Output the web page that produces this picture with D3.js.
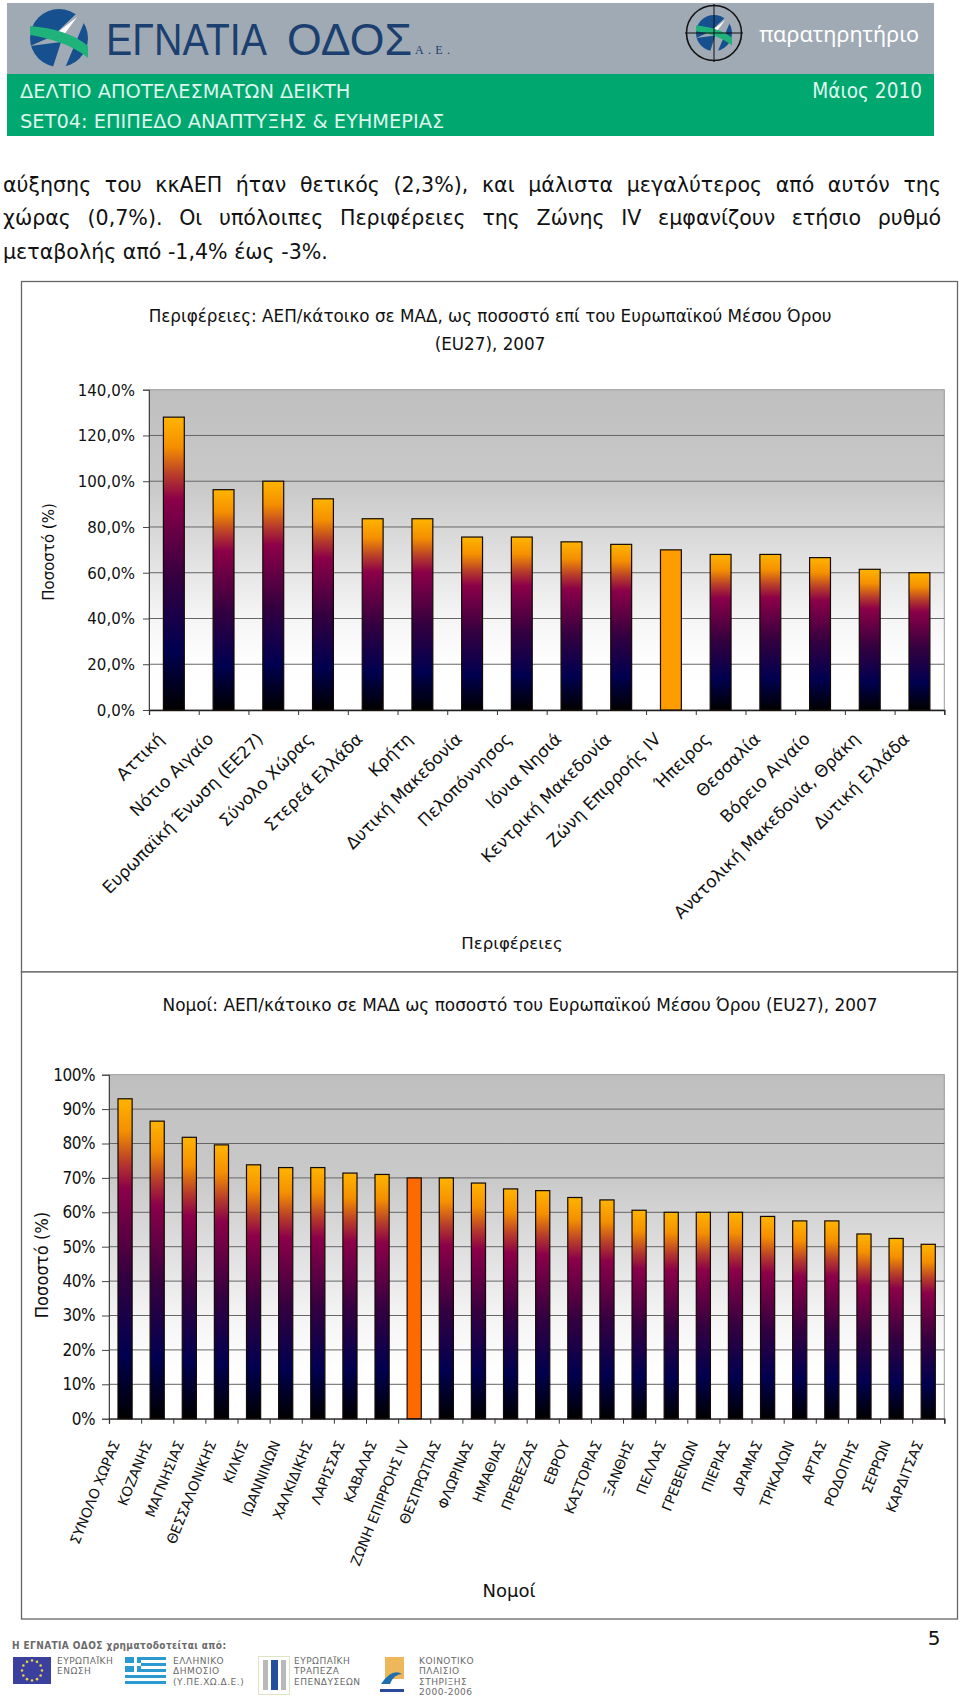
<!DOCTYPE html>
<html><head><meta charset="utf-8">
<script src="https://cdn.jsdelivr.net/npm/d3@7"></script>
<style>html,body{margin:0;padding:0;background:#fff}svg{display:block}</style>
</head><body><div id="c"></div>
<script>
const regionNames = ["Αττική","Νότιο Αιγαίο","Ευρωπαϊκή Ένωση (ΕΕ27)","Σύνολο Χώρας","Στερεά Ελλάδα","Κρήτη","Δυτική Μακεδονία","Πελοπόννησος","Ιόνια Νησιά","Κεντρική Μακεδονία","Ζώνη Επιρροής IV","Ήπειρος","Θεσσαλία","Βόρειο Αιγαίο","Ανατολική Μακεδονία, Θράκη","Δυτική Ελλάδα"];
const regionValues = [128,96.3,100,92.3,83.6,83.6,75.6,75.6,73.5,72.4,70,68,68,66.6,61.5,60];
const regionTicks = [0,20,40,60,80,100,120,140];
const prefectureNames = ["ΣΥΝΟΛΟ ΧΩΡΑΣ","ΚΟΖΑΝΗΣ","ΜΑΓΝΗΣΙΑΣ","ΘΕΣΣΑΛΟΝΙΚΗΣ","ΚΙΛΚΙΣ","ΙΩΑΝΝΙΝΩΝ","ΧΑΛΚΙΔΙΚΗΣ","ΛΑΡΙΣΣΑΣ","ΚΑΒΑΛΑΣ","ΖΩΝΗ ΕΠΙΡΡΟΗΣ IV","ΘΕΣΠΡΩΤΙΑΣ","ΦΛΩΡΙΝΑΣ","ΗΜΑΘΙΑΣ","ΠΡΕΒΕΖΑΣ","ΕΒΡΟΥ","ΚΑΣΤΟΡΙΑΣ","ΞΑΝΘΗΣ","ΠΕΛΛΑΣ","ΓΡΕΒΕΝΩΝ","ΠΙΕΡΙΑΣ","ΔΡΑΜΑΣ","ΤΡΙΚΑΛΩΝ","ΑΡΤΑΣ","ΡΟΔΟΠΗΣ","ΣΕΡΡΩΝ","ΚΑΡΔΙΤΣΑΣ"];
const prefectureValues = [93,86.5,81.8,79.6,73.8,73,73,71.4,71,70,70,68.5,66.8,66.3,64.3,63.6,60.6,60,60,60,58.8,57.5,57.5,53.7,52.4,50.7];
const prefectureTicks = [0,10,20,30,40,50,60,70,80,90,100];
const bodyLines = ["αύξησης του κκΑΕΠ ήταν θετικός (2,3%), και μάλιστα μεγαλύτερος από αυτόν της","χώρας (0,7%). Οι υπόλοιπες Περιφέρειες της Ζώνης IV εμφανίζουν ετήσιο ρυθμό","μεταβολής από -1,4% έως -3%."];

const COND = "'DejaVu Sans Condensed','DejaVu Sans',sans-serif";
const WIDE = "'DejaVu Sans',sans-serif";
const svg = d3.select("#c").append("svg").attr("width",960).attr("height",1701).attr("viewBox","0 0 960 1701").style("font-family",WIDE);
const defs = svg.append("defs");
const grad = (id,stops)=>{const g=defs.append("linearGradient").attr("id",id).attr("x1",0).attr("x2",0).attr("y1",0).attr("y2",1);
  stops.forEach(([o,c])=>g.append("stop").attr("offset",o).attr("stop-color",c));};
grad("barFire",[[0,"#ffb400"],[.1,"#f59000"],[.2,"#b53a2c"],[.28,"#8c0048"],[.55,"#34003f"],[.8,"#000050"],[1,"#000"]]);
grad("plotBg",[[0,"#bfbfbf"],[.3,"#c9c9c9"],[.5,"#dedede"],[.7,"#f4f4f4"],[.85,"#fefefe"],[1,"#fff"]]);

const txt=(x,y,s,size,o={})=>svg.append("text").attr("x",x).attr("y",y).attr("font-size",size).attr("fill",o.fill||"#111")
  .attr("text-anchor",o.anchor||"start").attr("dominant-baseline","central").attr("font-weight",o.weight||null)
  .attr("font-family",o.font||null).attr("letter-spacing",o.ls||null).text(s);

/* header */
svg.append("rect").attr("x",7).attr("y",3).attr("width",927).attr("height",71).attr("fill","#a0aab4");
svg.append("rect").attr("x",7).attr("y",74).attr("width",927).attr("height",62).attr("fill","#00a870");
function logo(cx,cy,r){
  const g=svg.append("g").attr("transform",`translate(${cx},${cy}) scale(${r/29})`);
  g.append("circle").attr("r",29).attr("fill","#17508f");
  g.append("path").attr("d","M-29,8 L-6,-2 L18,-25 L29,-25 L6,30 L-6,29 L2,4 Z").attr("fill","#a0aab4");
  g.append("path").attr("d","M-6,-2 L18,-21 L4,-2 Z").attr("fill","#fff");
  g.append("path").attr("d","M-29,-12 C-5,-10 15,-4 29,8 L29,20 C12,6 -10,0 -29,-3 Z").attr("fill","#1fb27a");
  return g;
}
logo(59,38,29);
const navy="#1b3f6e", BRAND="'Liberation Sans',sans-serif";
txt(106,39,"ΕΓΝΑΤΙΑ",44,{fill:navy,font:BRAND}).attr("textLength",161).attr("lengthAdjust","spacingAndGlyphs");
txt(287,39,"ΟΔΟΣ",44,{fill:navy,font:BRAND}).attr("textLength",125).attr("lengthAdjust","spacingAndGlyphs");
txt(415,50,"Α.Ε.",12,{fill:navy,font:"'Liberation Serif',serif"}).attr("textLength",35);
logo(714,33,18);
svg.append("circle").attr("cx",714).attr("cy",33).attr("r",27.5).attr("fill","none").attr("stroke","#111").attr("stroke-width",1.6);
svg.append("line").attr("x1",685).attr("x2",743).attr("y1",33).attr("y2",33).attr("stroke","#111");
svg.append("line").attr("x1",714).attr("x2",714).attr("y1",4).attr("y2",62).attr("stroke","#111");
txt(919,33,"παρατηρητήριο",21.6,{fill:"#fff",anchor:"end",font:"'Noto Sans',sans-serif"});
const mint="#dff6ec";
txt(20,91,"ΔΕΛΤΙΟ ΑΠΟΤΕΛΕΣΜΑΤΩΝ ΔΕΙΚΤΗ",19.4,{fill:mint});
txt(20,121,"SET04: ΕΠΙΠΕΔΟ ΑΝΑΠΤΥΞΗΣ & ΕΥΗΜΕΡΙΑΣ",19.4,{fill:mint});
txt(922,91,"Μάιος 2010",20.6,{fill:mint,anchor:"end",font:COND});

/* body text */
bodyLines.forEach((l,i)=>{
  const t=txt(3,[185,218,252][i],l,20.6);
  if(i<2){const w=t.node().getComputedTextLength();const n=l.split(" ").length-1;t.attr("word-spacing",(938-w)/n);}
});

/* frames */
svg.append("rect").attr("x",21.5).attr("y",281.5).attr("width",936).attr("height",690.5).attr("fill","#fff").attr("stroke","#666").attr("stroke-width",1.3);
svg.append("rect").attr("x",21.5).attr("y",972).attr("width",936).attr("height",647).attr("fill","#fff").attr("stroke","#666").attr("stroke-width",1.3);

function chart(o){
  const n=o.names.length;
  const x=d3.scaleBand().domain(o.names).range([o.l,o.r]).paddingInner(o.pad).paddingOuter(o.pad/2);
  const edge=d3.scaleLinear().domain([0,n]).range([o.l,o.r]);
  const y=d3.scaleLinear().domain([0,o.max]).range([o.b,o.t]);
  const g=svg.append("g");
  g.append("rect").attr("x",o.l).attr("y",o.t).attr("width",o.r-o.l).attr("height",o.b-o.t).attr("fill","url(#plotBg)").attr("stroke","#9a9a9a");
  g.append("g").selectAll("line").data(o.ticks.slice(1,-1)).join("line").attr("x1",o.l).attr("x2",o.r)
    .attr("y1",d=>y(d)).attr("y2",d=>y(d)).attr("stroke","#666").attr("stroke-width",1);
  const ya=g.append("g").attr("transform",`translate(${o.l},0)`).call(d3.axisLeft(y).tickValues(o.ticks).tickFormat(o.fmt).tickSize(o.tick).tickPadding(o.tickPad));
  ya.selectAll("text").attr("font-size",o.tickFont).attr("fill","#111").attr("font-family",COND).attr("letter-spacing",o.tickLs||null);
  ya.selectAll("line,path").attr("stroke","#444");
  const xa=g.append("g").attr("transform",`translate(0,${o.b})`).call(d3.axisBottom(edge).tickValues(d3.range(n+1)).tickFormat("").tickSize(5));
  xa.selectAll("line").attr("stroke","#333");
  xa.select("path").attr("stroke","#222").attr("stroke-width",1.3);
  g.selectAll("rect.b").data(o.values).join("rect").attr("class","b")
    .attr("x",(d,i)=>x(o.names[i])).attr("width",x.bandwidth()).attr("y",d=>y(d)).attr("height",d=>o.b-y(d))
    .attr("fill",(d,i)=>i===o.hi?o.hiColor:"url(#barFire)").attr("stroke","#140a05").attr("stroke-width",1.2);
  g.selectAll("text.c").data(o.names).join("text").attr("class","c")
    .attr("transform",d=>`translate(${x(d)+x.bandwidth()/2+o.ldx},${o.ly}) rotate(${o.angle})`)
    .attr("text-anchor","end").attr("font-size",o.catFont).attr("fill","#111").text(d=>d);
  o.title.forEach(([s,ty])=>txt(o.tx,ty,s,o.titleFont,{anchor:"middle"}));
  svg.append("text").attr("transform",`translate(${o.yx},${o.yy}) rotate(-90)`).attr("text-anchor","middle").attr("dominant-baseline","central")
    .attr("font-size",o.yFont).attr("font-family",COND).attr("fill","#111").text("Ποσοστό (%)");
  txt(o.xx,o.xy,o.xTitle,o.xFont,{anchor:"middle"});
}
const comma=d3.formatLocale({decimal:",",thousands:".",grouping:[3],currency:["","€"]}).format(".1f");
chart({names:regionNames,values:regionValues,ticks:regionTicks,max:140,l:149,r:944.3,t:389.7,b:710,pad:.58,hi:10,hiColor:"#ff9c00",
  fmt:d=>comma(d)+"%",tick:6,tickPad:8,tickFont:16.7,catFont:17,angle:-45,ldx:-9,ly:740,
  title:[["Περιφέρειες: ΑΕΠ/κάτοικο σε ΜΑΔ, ως ποσοστό επί του Ευρωπαϊκού Μέσου Όρου",316],["(EU27), 2007",344]],tx:490,titleFont:16.8,
  yx:48,yy:552,yFont:16.7,xTitle:"Περιφέρειες",xx:512,xy:943,xFont:16.6});
chart({names:prefectureNames,values:prefectureValues,ticks:prefectureTicks,max:100,l:109,r:944.3,t:1074.7,b:1418.7,pad:.56,hi:9,hiColor:"#ff6a00",
  fmt:d=>d+"%",tick:7,tickPad:7,tickFont:17,tickLs:-.5,catFont:13.9,angle:-68,ldx:-5,ly:1443,
  title:[["Νομοί: ΑΕΠ/κάτοικο σε ΜΑΔ ως ποσοστό του Ευρωπαϊκού Μέσου Όρου (EU27), 2007",1005]],tx:520,titleFont:16.9,
  yx:41,yy:1265,yFont:18.2,xTitle:"Νομοί",xx:509,xy:1590,xFont:18});

/* footer */
txt(934,1638,"5",20,{anchor:"middle"});
const gr="#6a6a6a";
txt(12,1645,"Η ΕΓΝΑΤΙΑ ΟΔΟΣ χρηματοδοτείται από:",10,{fill:gr,weight:"bold",ls:.42,font:COND});
svg.append("rect").attr("x",13).attr("y",1657).attr("width",38).attr("height",27).attr("fill","#3b3f9e");
d3.range(12).forEach(i=>{const a=i*Math.PI/6;svg.append("circle").attr("cx",32+10*Math.cos(a)).attr("cy",1670.5+10*Math.sin(a)).attr("r",1.3).attr("fill","#e8d24a");});
svg.append("rect").attr("x",125).attr("y",1657).attr("width",41).attr("height",27).attr("fill","#2a9ad0");
d3.range(4).forEach(i=>svg.append("rect").attr("x",i<2?141:125).attr("y",1660+i*6).attr("width",i<2?25:41).attr("height",3).attr("fill","#fff"));
svg.append("rect").attr("x",134).attr("y",1657).attr("width",3).attr("height",15).attr("fill","#fff");
svg.append("rect").attr("x",125).attr("y",1663).attr("width",16).attr("height",3).attr("fill","#fff");
svg.append("rect").attr("x",258.5).attr("y",1656.5).attr("width",31).attr("height",38).attr("fill","#fff").attr("stroke","#dfe3c4");
svg.append("rect").attr("x",263).attr("y",1660).attr("width",5).attr("height",30).attr("fill","#b9b9b9");
svg.append("rect").attr("x",271).attr("y",1660).attr("width",7).attr("height",30).attr("fill","#23509c");
svg.append("rect").attr("x",281).attr("y",1660).attr("width",5).attr("height",30).attr("fill","#b9b9b9");
svg.append("rect").attr("x",385).attr("y",1657).attr("width",19).attr("height",22).attr("fill","#eeb75c");
svg.append("path").attr("d","M381,1684 Q392,1668 402,1674 Q394,1674 390,1684 Z").attr("fill","#1d6fb0");
svg.append("rect").attr("x",380).attr("y",1689).attr("width",24).attr("height",3).attr("fill","#2b4a9b");
[[57,[["ΕΥΡΩΠΑΪΚΗ",1661],["ΕΝΩΣΗ",1671]]],[173,[["ΕΛΛΗΝΙΚΟ",1661],["ΔΗΜΟΣΙΟ",1671],["(Υ.ΠΕ.ΧΩ.Δ.Ε.)",1682]]],[294,[["ΕΥΡΩΠΑΪΚΗ",1661],["ΤΡΑΠΕΖΑ",1671],["ΕΠΕΝΔΥΣΕΩΝ",1682]]],[419,[["ΚΟΙΝΟΤΙΚΟ",1661],["ΠΛΑΙΣΙΟ",1671],["ΣΤΗΡΙΞΗΣ",1682],["2000-2006",1692]]]]
 .forEach(([x,ls])=>ls.forEach(([s,y])=>txt(x,y,s,9,{fill:gr,ls:.5})));
</script></body></html>
